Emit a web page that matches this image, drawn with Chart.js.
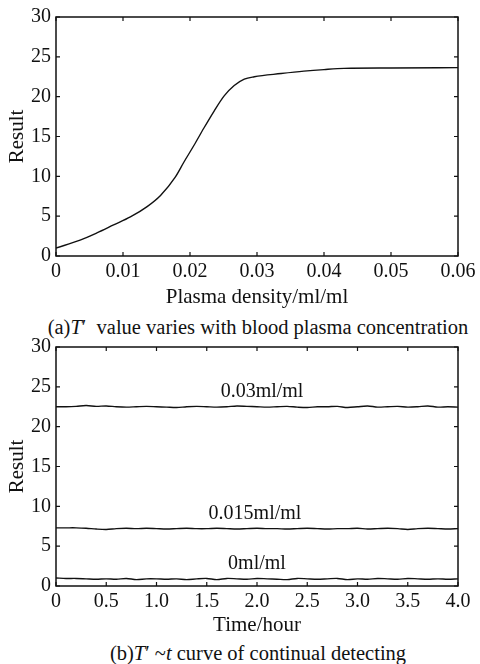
<!DOCTYPE html>
<html>
<head>
<meta charset="utf-8">
<script src="https://cdn.jsdelivr.net/npm/chart.js@4.4.1/dist/chart.umd.min.js"></script>
<style>
  html, body { margin: 0; padding: 0; background: #fff; }
  body { width: 480px; height: 664px; position: relative; overflow: hidden; font-family: "Liberation Serif", serif; color: #111; }
  canvas { position: absolute; left: 0; }
  .cap { position: absolute; left: 40px; width: 436px; text-align: center; white-space: nowrap; font-size: 20.5px; line-height: 22px; }
</style>
</head>
<body>
<canvas id="c1" width="480" height="316" style="top:0px"></canvas>
<div class="cap" style="top:316px">(a)<i>T</i>′&nbsp; value varies with blood plasma concentration</div>
<canvas id="c2" width="480" height="310" style="top:330px"></canvas>
<div class="cap" style="top:642px">(b)<i>T</i>′ ~<i>t</i> curve of continual detecting</div>
<script>
// ---- Data: chart (a) ----
const densityX = [0, 0.0036, 0.0061, 0.0086, 0.0111, 0.0136, 0.0156, 0.0178, 0.0191, 0.0206, 0.0221, 0.0236, 0.0251, 0.0266, 0.0281, 0.0296, 0.0336, 0.0370, 0.0400, 0.0430, 0.0500, 0.0600];
const resultA  = [1.0, 2.0, 2.9, 3.9, 4.9, 6.2, 7.6, 9.9, 11.8, 13.9, 16.1, 18.2, 20.1, 21.4, 22.2, 22.5, 22.9, 23.2, 23.4, 23.55, 23.6, 23.65];
const xTicksA = ['0', '0.01', '0.02', '0.03', '0.04', '0.05', '0.06'];
const yTicks = ['0', '5', '10', '15', '20', '25', '30'];

// ---- Data: chart (b) ----
const timeX = [0,0.1,0.2,0.3,0.4,0.5,0.6,0.7,0.8,0.9,1.0,1.1,1.2,1.3,1.4,1.5,1.6,1.7,1.8,1.9,2.0,2.1,2.2,2.3,2.4,2.5,2.6,2.7,2.8,2.9,3.0,3.1,3.2,3.3,3.4,3.5,3.6,3.7,3.8,3.9,4.0];
const res003  = [22.5,22.5,22.55,22.65,22.55,22.6,22.5,22.45,22.5,22.55,22.5,22.45,22.4,22.5,22.55,22.5,22.45,22.5,22.6,22.55,22.5,22.45,22.5,22.55,22.45,22.4,22.5,22.5,22.55,22.4,22.5,22.6,22.45,22.5,22.55,22.45,22.5,22.6,22.45,22.5,22.45];
const res0015 = [7.3,7.3,7.3,7.25,7.15,7.1,7.2,7.25,7.2,7.25,7.2,7.15,7.2,7.25,7.2,7.2,7.25,7.2,7.15,7.2,7.25,7.2,7.2,7.15,7.2,7.25,7.2,7.15,7.2,7.2,7.25,7.15,7.2,7.25,7.2,7.1,7.2,7.25,7.2,7.15,7.2];
const res0    = [1.0,0.95,0.95,0.9,0.85,0.9,0.85,0.95,0.8,0.9,0.9,0.85,0.9,0.8,0.9,0.95,0.8,0.95,0.9,0.85,0.95,0.9,0.85,0.8,0.95,0.9,0.85,0.9,0.95,0.8,0.9,0.85,0.95,0.9,0.85,0.95,0.9,0.85,0.9,0.85,0.9];
const xTicksB = ['0', '0.5', '1.0', '1.5', '2.0', '2.5', '3.0', '3.5', '4.0'];
const lineLabels = ['0.03ml/ml', '0.015ml/ml', '0ml/ml'];
const lineLabelX = [2.05, 1.98, 2.0];
const lineLabelY = [24.4, 9.1, 2.8];

const INK = '#111';
const FONT = '"Liberation Serif", "Times New Roman", serif';

function pts(xs, ys) { return xs.map((x, i) => ({ x: x, y: ys[i] })); }

// draws the box and inward tick marks (MATLAB style) from the scales
const boxTicks = {
  id: 'boxTicks',
  afterDraw(chart) {
    const { ctx, chartArea: a, scales } = chart;
    ctx.save();
    ctx.strokeStyle = INK;
    ctx.lineWidth = 1.5;
    ctx.strokeRect(a.left, a.top, a.right - a.left, a.bottom - a.top);
    ctx.lineWidth = 1.2;
    const L = 4;
    scales.x.ticks.forEach(t => {
      const px = scales.x.getPixelForValue(t.value);
      ctx.beginPath();
      ctx.moveTo(px, a.bottom); ctx.lineTo(px, a.bottom - L);
      ctx.moveTo(px, a.top); ctx.lineTo(px, a.top + L);
      ctx.stroke();
    });
    scales.y.ticks.forEach(t => {
      const py = scales.y.getPixelForValue(t.value);
      ctx.beginPath();
      ctx.moveTo(a.left, py); ctx.lineTo(a.left + L, py);
      ctx.moveTo(a.right, py); ctx.lineTo(a.right - L, py);
      ctx.stroke();
    });
    const lab = chart.options.plugins.boxTicks;
    if (lab && lab.texts) {
      ctx.fillStyle = INK;
      ctx.font = '20px ' + FONT;
      ctx.textAlign = 'center';
      ctx.textBaseline = 'middle';
      lab.texts.forEach((s, i) => {
        ctx.fillText(s, scales.x.getPixelForValue(lab.xs[i]), scales.y.getPixelForValue(lab.ys[i]));
      });
    }
    ctx.restore();
  }
};

function makeOptions(xMax, xStep, xLabels, xTitle, padTop, xHeight, titlePadBottom, labels) {
  return {
    responsive: false,
    animation: false,
    devicePixelRatio: 1,
    layout: { padding: { top: padTop, right: 22, left: 0, bottom: 0 } },
    plugins: {
      legend: { display: false },
      tooltip: { enabled: false },
      boxTicks: labels || {}
    },
    elements: { point: { radius: 0 } },
    scales: {
      x: {
        type: 'linear', min: 0, max: xMax,
        grid: { display: false, drawTicks: false },
        border: { display: false },
        afterFit: s => { s.height = xHeight; },
        ticks: {
          stepSize: xStep, color: INK, padding: 4, maxRotation: 0, autoSkip: false,
          font: { family: FONT, size: 20 },
          callback: (v, i) => xLabels[i]
        },
        title: { display: true, text: xTitle, color: INK, font: { family: FONT, size: 21 }, padding: { top: 0, bottom: titlePadBottom } }
      },
      y: {
        type: 'linear', min: 0, max: 30,
        grid: { display: false, drawTicks: false },
        border: { display: false },
        afterFit: s => { s.width = 56; },
        ticks: {
          stepSize: 5, color: INK, padding: 5,
          font: { family: FONT, size: 20 },
          callback: (v, i) => yTicks[i]
        },
        title: { display: true, text: 'Result', color: INK, font: { family: FONT, size: 21 }, padding: { top: 5, bottom: 0 } }
      }
    }
  };
}

const lineStyle = { borderColor: INK, borderWidth: 1.4, pointRadius: 0, fill: false };

new Chart(document.getElementById('c1'), {
  type: 'line',
  data: { datasets: [Object.assign({ data: pts(densityX, resultA), cubicInterpolationMode: 'monotone' }, lineStyle)] },
  options: makeOptions(0.06, 0.01, xTicksA, 'Plasma density/ml/ml', 15, 60, 6),
  plugins: [boxTicks]
});

new Chart(document.getElementById('c2'), {
  type: 'line',
  data: { datasets: [
    Object.assign({ data: pts(timeX, res003), tension: 0.3 }, lineStyle),
    Object.assign({ data: pts(timeX, res0015), tension: 0.3 }, lineStyle),
    Object.assign({ data: pts(timeX, res0), tension: 0.3 }, lineStyle)
  ] },
  options: makeOptions(4.0, 0.5, xTicksB, 'Time/hour', 16, 54, 2, { texts: lineLabels, xs: lineLabelX, ys: lineLabelY }),
  plugins: [boxTicks]
});
</script>
</body>
</html>
